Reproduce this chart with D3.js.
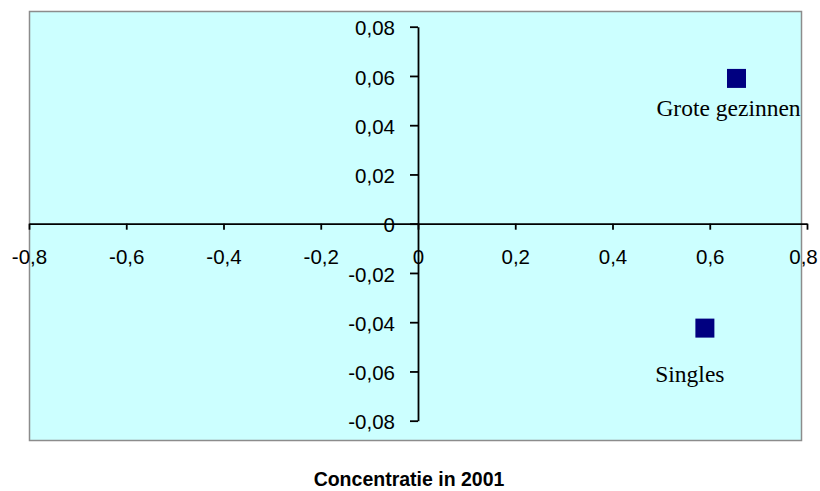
<!DOCTYPE html>
<html>
<head>
<meta charset="utf-8">
<script src="https://cdn.jsdelivr.net/npm/d3@7"></script>
<style>
  body { margin: 0; background: #fff; }
</style>
</head>
<body>
<script>
// data
const groups = ["Grote gezinnen", "Singles"];
const xValues = [0.655, 0.59];
const yValues = [0.059, -0.0424];
const xTicks = [-0.8, -0.6, -0.4, -0.2, 0, 0.2, 0.4, 0.6, 0.8];
const yTicks = [-0.08, -0.06, -0.04, -0.02, 0, 0.02, 0.04, 0.06, 0.08];
const title = "Concentratie in 2001";

// label nudges (dx, dy) for each point's data label
const labelNudge = [[-8, 38], [-15, 54]];

const width = 820, height = 491;
const svg = d3.select("body").append("svg")
  .attr("width", width)
  .attr("height", height);

// plot area box
svg.append("rect")
  .attr("x", 29.5).attr("y", 11.5)
  .attr("width", 772).attr("height", 429)
  .attr("fill", "#CCFFFF")
  .attr("stroke", "#8c8c8c")
  .attr("stroke-width", 1.5);

const x = d3.scaleLinear().domain([-0.8, 0.8]).range([29, 807]);
const y = d3.scaleLinear().domain([-0.08, 0.08]).range([420.7, 26.7]);

const fmt = (digits) => (d) => d === 0 ? "0" : d.toFixed(digits).replace(".", ",");

// x axis through y = 0
const gx = svg.append("g")
  .attr("transform", `translate(0,${y(0)})`)
  .call(d3.axisBottom(x).tickValues(xTicks).tickFormat(fmt(1))
    .tickSizeInner(6).tickSizeOuter(0).tickPadding(10));

// y axis through x = 0
const gy = svg.append("g")
  .attr("transform", `translate(${x(0)},0)`)
  .call(d3.axisLeft(y).tickValues(yTicks).tickFormat(fmt(2))
    .tickSizeInner(8).tickSizeOuter(0).tickPadding(15));

[gx, gy].forEach(g => {
  g.select(".domain").attr("stroke", "#000").attr("stroke-width", 1.8);
  g.selectAll(".tick line").attr("stroke", "#000").attr("stroke-width", 1.8);
  g.selectAll(".tick text")
    .attr("fill", "#000")
    .style("font-family", "Arial, 'Liberation Sans', sans-serif")
    .style("font-size", "20.5px");
});
gx.selectAll(".tick text").attr("y", 26).attr("dy", "0.71em");
// keep the last label inside the window, as in the original
gx.selectAll(".tick text").filter(d => d === 0.8).attr("dx", -4);
gy.selectAll(".tick text").attr("dy", "0.4em");

// points
const size = 19;
svg.selectAll(".pt")
  .data(groups)
  .enter()
  .append("rect")
  .attr("class", "pt")
  .attr("x", (d, i) => x(xValues[i]) - size / 2)
  .attr("y", (d, i) => y(yValues[i]) - size / 2)
  .attr("width", size)
  .attr("height", size)
  .attr("fill", "#000080");

// data labels
svg.selectAll(".lbl")
  .data(groups)
  .enter()
  .append("text")
  .attr("class", "lbl")
  .attr("x", (d, i) => x(xValues[i]) + labelNudge[i][0])
  .attr("y", (d, i) => y(yValues[i]) + labelNudge[i][1])
  .attr("text-anchor", "middle")
  .style("font-family", "'Times New Roman', 'Liberation Serif', serif")
  .style("font-size", "23.5px")
  .attr("fill", "#000")
  .text(d => d);

// title under the chart
svg.append("text")
  .attr("x", 409)
  .attr("y", 486)
  .attr("text-anchor", "middle")
  .style("font-family", "Arial, 'Liberation Sans', sans-serif")
  .style("font-size", "19.5px")
  .style("font-weight", "bold")
  .text(title);
</script>
</body>
</html>
